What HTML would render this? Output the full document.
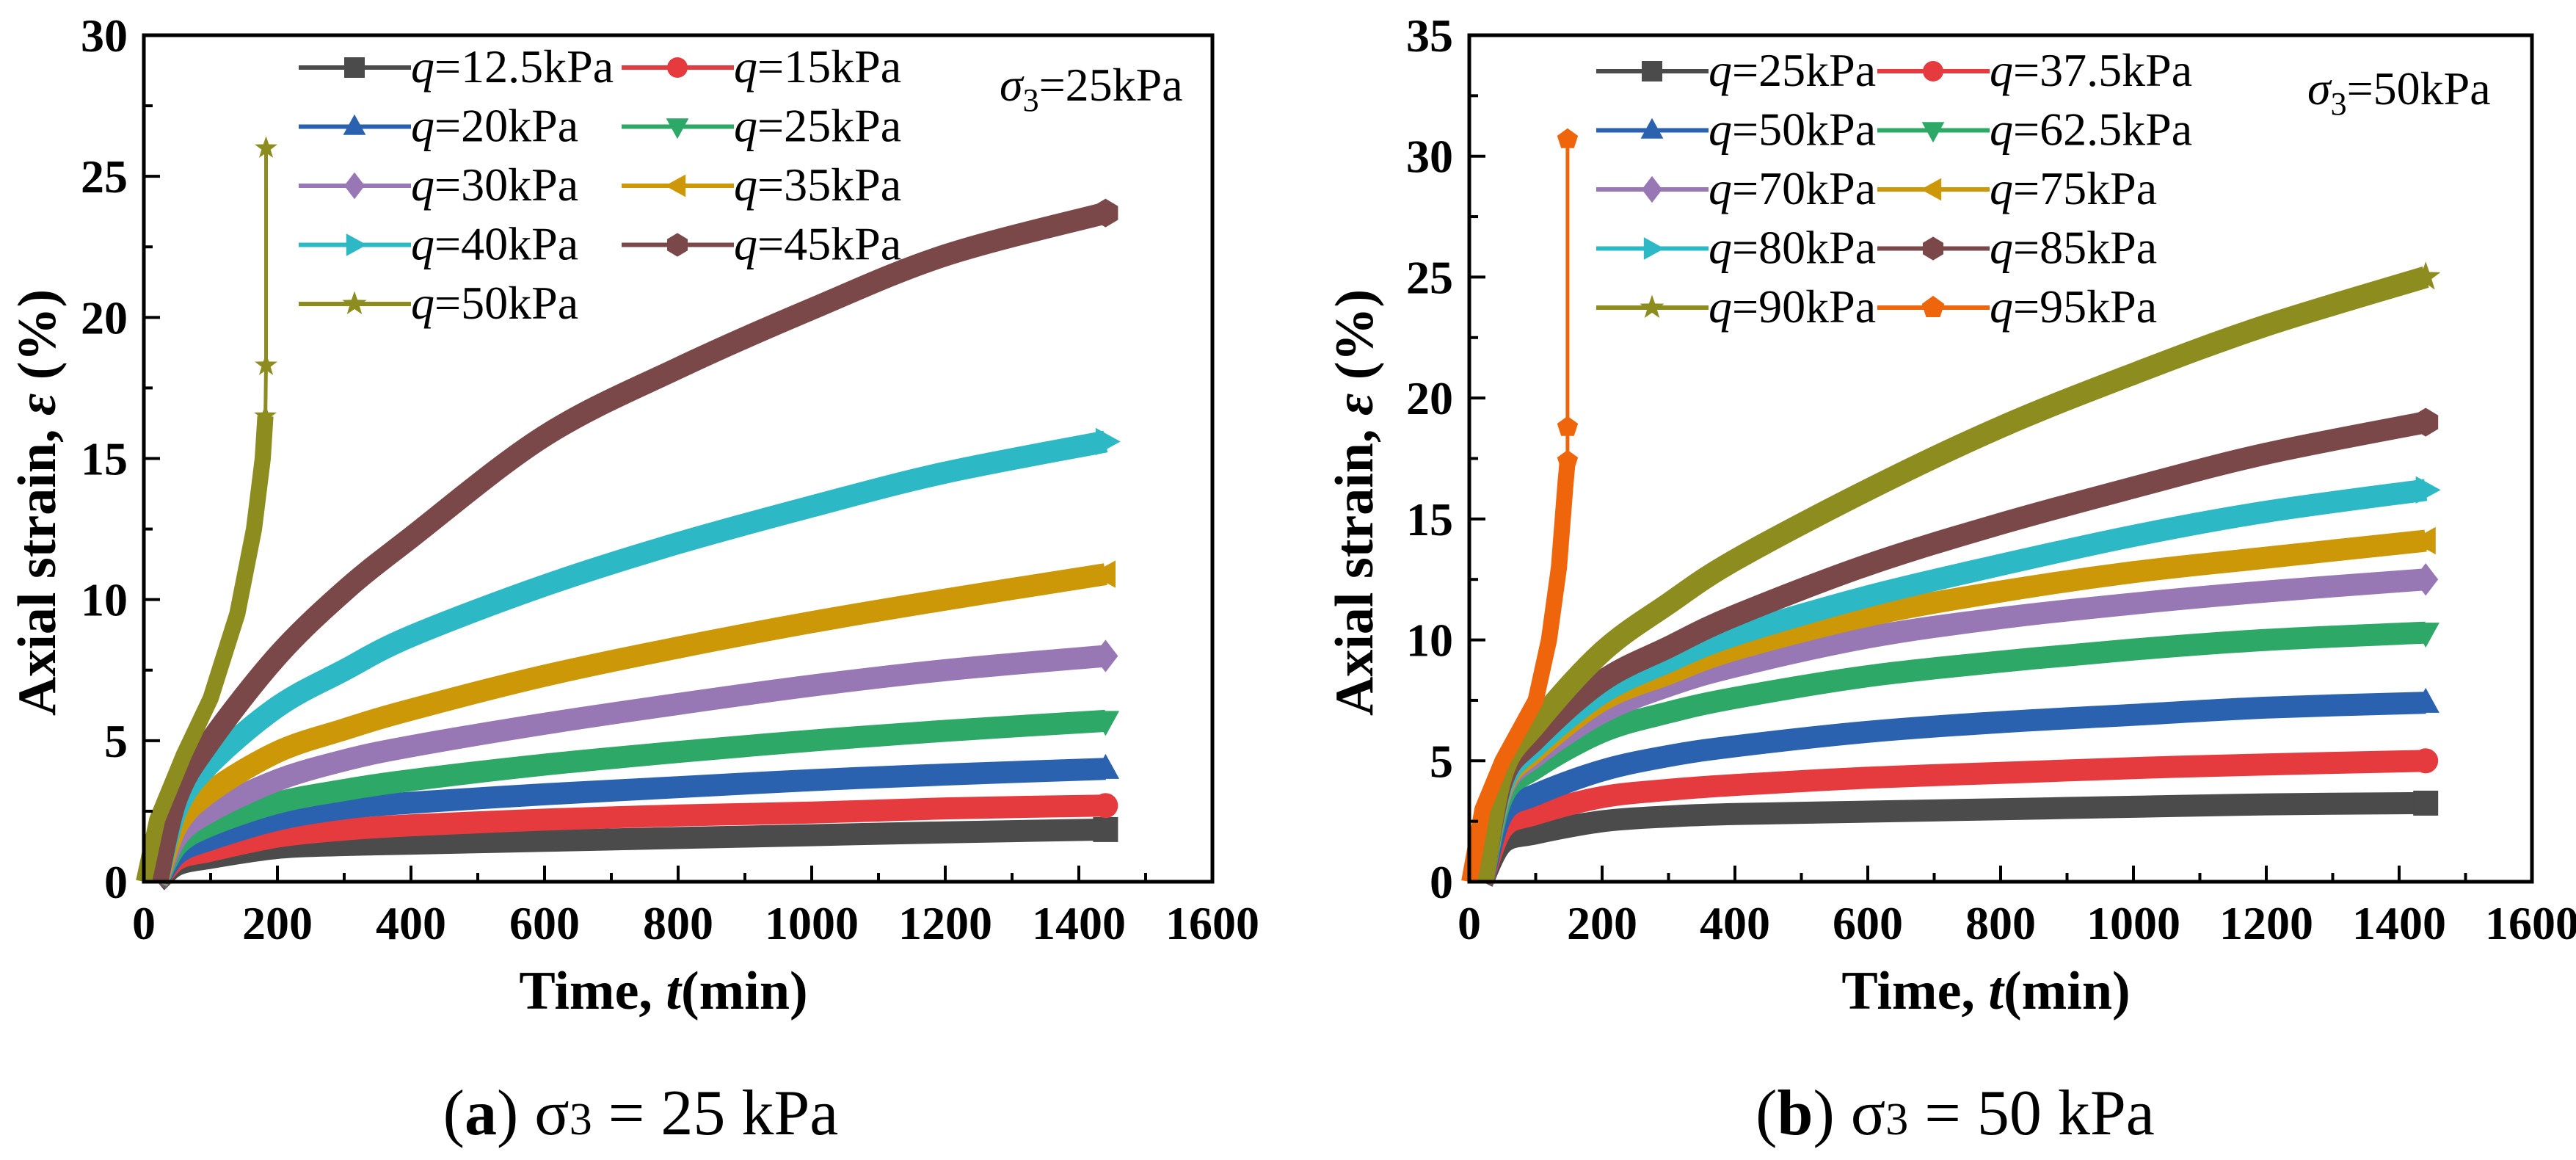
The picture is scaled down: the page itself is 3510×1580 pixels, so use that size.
<!DOCTYPE html>
<html><head><meta charset="utf-8">
<style>
html,body{margin:0;padding:0;background:#fff;}
svg{display:block;font-family:"Liberation Serif","DejaVu Serif",serif;}
svg text{font-family:"Liberation Serif","DejaVu Serif",serif;}
</style></head>
<body>
<svg id="fig" width="3510" height="1580" viewBox="0 0 3510 1580" xmlns="http://www.w3.org/2000/svg" font-family="Liberation Serif, DejaVu Serif, serif">
<rect width="3510" height="1580" fill="#fff"/>
</svg>
<script>
// ---------- data ----------
const timesA = [20,50,100,200,300,400,600,800,1000,1200,1440];
const q125A = [0,0.6,0.85,1.2,1.3,1.35,1.45,1.55,1.65,1.75,1.85];
const q15A  = [0,0.8,1.1,1.6,1.85,2.0,2.2,2.35,2.45,2.6,2.7];
const q20A  = [0,1.0,1.5,2.2,2.6,2.8,3.1,3.35,3.6,3.8,4.0];
const q25A  = [0,1.3,2.0,2.8,3.25,3.6,4.15,4.6,5.0,5.35,5.7];
const q30A  = [0,1.6,2.5,3.6,4.3,4.8,5.6,6.3,6.95,7.5,8.0];
const q35A  = [0,2.0,3.2,4.6,5.4,6.1,7.3,8.3,9.2,10.0,10.9];
const q40A  = [0,2.6,4.2,6.2,7.5,8.7,10.5,12.0,13.3,14.5,15.6];
const q45A  = [0,3.0,5.0,8.0,10.3,12.2,15.8,18.2,20.3,22.2,23.7];
const q50Atimes = [0,20,60,100,140,165,178,182,183,183];
const q50A  = [0,2.2,4.5,6.5,9.5,12.5,15.0,16.5,18.3,26.0];

const timesB = [20,50,100,200,300,400,600,800,1000,1200,1440];
const q25B  = [0,1.6,2.0,2.5,2.7,2.8,2.9,3.0,3.1,3.2,3.25];
const q375B = [0,2.2,2.8,3.5,3.8,4.0,4.3,4.5,4.7,4.85,5.0];
const q50B  = [0,2.8,3.6,4.6,5.2,5.6,6.2,6.6,6.9,7.2,7.4];
const q625B = [0,3.5,4.7,6.2,7.0,7.6,8.5,9.1,9.6,10.0,10.3];
const q70B  = [0,3.8,5.2,7.0,8.1,8.9,10.1,10.9,11.5,12.0,12.5];
const q75B  = [0,3.9,5.4,7.5,8.6,9.6,11.0,12.0,12.8,13.4,14.1];
const q80B  = [0,4.0,5.6,7.8,9.1,10.2,11.8,13.1,14.3,15.3,16.2];
const q85B  = [0,4.2,5.9,8.3,9.7,11.0,13.1,14.8,16.3,17.7,19.0];
const q90B  = [0,4.5,6.5,9.5,11.5,13.3,16.2,18.8,21.0,23.0,25.0];
const q95Btimes = [0,20,50,100,120,135,145,148,148,148];
const q95B  = [0,3.0,5.0,7.5,10.0,13.0,16.5,17.4,18.8,30.7];

const xTicks = [0,200,400,600,800,1000,1200,1400,1600];
const yTicksA = [0,5,10,15,20,25,30];
const yTicksB = [0,5,10,15,20,25,30,35];

// ---------- drawing ----------
const NS = "http://www.w3.org/2000/svg";
const svg = document.getElementById('fig');
const FONT = '"Liberation Serif","DejaVu Serif",serif';
function mk(tag, attrs, parent){
  const e = document.createElementNS(NS, tag);
  for (const k in attrs) e.setAttribute(k, attrs[k]);
  if (tag==='text') e.style.fontFamily = FONT;
  (parent||svg).appendChild(e);
  return e;
}
function marker(g, shape, x, y, s, color){
  let e;
  if (shape==='square') e = mk('rect',{x:x-s,y:y-s,width:2*s,height:2*s,fill:color},g);
  else if (shape==='circle') e = mk('circle',{cx:x,cy:y,r:s,fill:color},g);
  else {
    let pts;
    if (shape==='up') pts=[[0,-s*1.2],[s*1.1,s*0.8],[-s*1.1,s*0.8]];
    else if (shape==='down') pts=[[0,s*1.2],[s*1.1,-s*0.8],[-s*1.1,-s*0.8]];
    else if (shape==='diamond') pts=[[0,-s*1.3],[s,0],[0,s*1.3],[-s,0]];
    else if (shape==='left') pts=[[-s*1.2,0],[s*0.8,-s*1.1],[s*0.8,s*1.1]];
    else if (shape==='right') pts=[[s*1.2,0],[-s*0.8,-s*1.1],[-s*0.8,s*1.1]];
    else if (shape==='hex') pts=[[0,-s*1.15],[s,-s*0.55],[s,s*0.55],[0,s*1.15],[-s,s*0.55],[-s,-s*0.55]];
    else if (shape==='pent') pts=[0,1,2,3,4].map(i=>{const a=-Math.PI/2+i*2*Math.PI/5;return [s*1.15*Math.cos(a),s*1.15*Math.sin(a)];});
    else if (shape==='star') pts=[...Array(10).keys()].map(i=>{const a=-Math.PI/2+i*Math.PI/5;const r=i%2?s*0.5:s*1.25;return [r*Math.cos(a),r*Math.sin(a)];});
    e = mk('polygon',{points:pts.map(p=>(x+p[0])+','+(y+p[1])).join(' '),fill:color},g);
  }
  return e;
}
function smoothPath(P){
  let d='M'+P[0][0].toFixed(1)+','+P[0][1].toFixed(1);
  for(let i=0;i<P.length-1;i++){
    const p0=P[Math.max(0,i-1)],p1=P[i],p2=P[i+1],p3=P[Math.min(P.length-1,i+2)];
    const c1=[p1[0]+(p2[0]-p0[0])/6,p1[1]+(p2[1]-p0[1])/6];
    const c2=[p2[0]-(p3[0]-p1[0])/6,p2[1]-(p3[1]-p1[1])/6];
    d+=' C'+c1.map(v=>v.toFixed(1)).join(',')+' '+c2.map(v=>v.toFixed(1)).join(',')+' '+p2[0].toFixed(1)+','+p2[1].toFixed(1);
  }
  return d;
}
function linePath(P){ return P.map((p,i)=>(i?'L':'M')+p[0].toFixed(1)+','+p[1].toFixed(1)).join(' '); }

function drawPanel(cfg){
  const {x0,x1,y0,y1,ymax,yTicks,series,legend,sigma,caption,id} = cfg;
  const sx = t => x0 + (t/1600)*(x1-x0);
  const sy = v => y0 - (v/ymax)*(y0-y1);
  const g = mk('g',{});
  
  
  series.forEach(s=>{
    const sg = mk('g',{},g);
    
    
    const P = s.t.map((t,i)=>[sx(t),sy(s.v[i])]);
    const n=s.v.length;
    if (s.thin){
      // dense-marker part (thick) up to the last measured points, then thin jump
      mk('path',{d:linePath(P.slice(0,n-2)),fill:'none',stroke:s.color,'stroke-width':22,'stroke-linejoin':'round'},sg);
      mk('path',{d:linePath(P),fill:'none',stroke:s.color,'stroke-width':5,'stroke-linejoin':'round'},sg);
      for(let k=1;k<=3;k++) marker(sg,s.shape,sx(s.t[n-k]),sy(s.v[n-k]),13,s.color);
    } else {
      mk('path',{d:smoothPath(P),fill:'none',stroke:s.color,'stroke-width':30,'stroke-linejoin':'round','stroke-linecap':'butt'},sg);
      marker(sg,s.shape,sx(s.t[n-1]),sy(s.v[n-1]),17,s.color);
    }
  });
  const fr = mk('rect',{x:x0,y:y1,width:x1-x0,height:y0-y1,fill:'none',stroke:'#000','stroke-width':5},g);
  
  
  xTicks.forEach(t=>{
    const x=sx(t);
    mk('line',{x1:x,y1:y0,x2:x,y2:y0-22,stroke:'#000','stroke-width':4},g);
    const tl = mk('text',{x:x,y:y0+78,'font-size':64,'font-weight':'bold','text-anchor':'middle'},g);
    tl.textContent=t;
    
    
  });
  for (let t=100;t<1600;t+=200){ const x=sx(t); mk('line',{x1:x,y1:y0,x2:x,y2:y0-12,stroke:'#000','stroke-width':4},g); }
  yTicks.forEach(v=>{
    const y=sy(v);
    mk('line',{x1:x0,y1:y,x2:x0+22,y2:y,stroke:'#000','stroke-width':4},g);
    const tl = mk('text',{x:x0-22,y:y+22,'font-size':64,'font-weight':'bold','text-anchor':'end'},g);
    tl.textContent=v;
    
    
  });
  for (let v=2.5; v<ymax; v+=5){ const y=sy(v); mk('line',{x1:x0,y1:y,x2:x0+12,y2:y,stroke:'#000','stroke-width':4},g); }
  const xt = mk('text',{x:(x0+x1)/2-20,y:y0+173,'font-size':74,'font-weight':'bold','text-anchor':'middle'},g);
  xt.innerHTML='Time, <tspan font-style="italic">t</tspan>(min)';
  
  
  const yc = (y0+y1)/2+60;
  const yt = mk('text',{x:cfg.ytx,y:yc,'font-size':74,'font-weight':'bold','text-anchor':'middle',transform:`rotate(-90 ${cfg.ytx} ${yc})`},g);
  yt.innerHTML='Axial strain, <tspan font-style="italic">ε</tspan> (%)';
  
  
  const lg = mk('g',{},g);
  
  
  legend.forEach((it,i)=>{
    const col=i%2, row=Math.floor(i/2);
    const lx = col? cfg.legX2 : cfg.legX1;
    const ly = cfg.legY + row*80.5;
    const eg = mk('g',{},lg);
    
    
    mk('line',{x1:lx,y1:ly,x2:lx+153,y2:ly,stroke:it.color,'stroke-width':6},eg);
    marker(eg,it.shape,lx+76,ly,14,it.color);
    const tx = mk('text',{x:lx+153,y:ly+20,'font-size':64},eg);
    tx.innerHTML='<tspan font-style="italic">q</tspan>='+it.name+'kPa';
  });
  const sg = mk('text',{x:cfg.sigX,y:cfg.sigY,'font-size':64},g);
  sg.innerHTML='<tspan font-style="italic">σ</tspan><tspan font-size="44" dy="14">3</tspan><tspan dy="-14">='+sigma+'kPa</tspan>';
  
  
  const cp = mk('text',{x:cfg.capX,y:1545,'font-size':88,'text-anchor':'middle'},g);
  cp.innerHTML='(<tspan font-weight="bold">'+caption+'</tspan>) σ<tspan font-size="62">3</tspan> = '+sigma+' kPa';
  
  
}

const C = {gray:'#4b4b4b',red:'#e63b3e',blue:'#2a62b0',green:'#2ea866',purple:'#9877b5',gold:'#cc9808',cyan:'#2cb9c5',brown:'#7a4848',olive:'#8c8c1f',orange:'#ef650c'};

drawPanel({id:'panel-a',x0:196,x1:1652,y0:1201,y1:48,ymax:30,yTicks:yTicksA,ytx:75,
  caption:'a',sigma:'25',capX:873,sigX:1362,sigY:137,legX1:407,legX2:847,legY:92,
  series:[
    {name:'12.5',t:timesA,v:q125A,color:C.gray,shape:'square'},
    {name:'15',t:timesA,v:q15A,color:C.red,shape:'circle'},
    {name:'20',t:timesA,v:q20A,color:C.blue,shape:'up'},
    {name:'25',t:timesA,v:q25A,color:C.green,shape:'down'},
    {name:'30',t:timesA,v:q30A,color:C.purple,shape:'diamond'},
    {name:'35',t:timesA,v:q35A,color:C.gold,shape:'left'},
    {name:'40',t:timesA,v:q40A,color:C.cyan,shape:'right'},
    {name:'45',t:timesA,v:q45A,color:C.brown,shape:'hex'},
    {name:'50',t:q50Atimes,v:q50A,color:C.olive,shape:'star',thin:true}
  ],
  legend:[
    {name:'12.5',color:C.gray,shape:'square'},{name:'15',color:C.red,shape:'circle'},
    {name:'20',color:C.blue,shape:'up'},{name:'25',color:C.green,shape:'down'},
    {name:'30',color:C.purple,shape:'diamond'},{name:'35',color:C.gold,shape:'left'},
    {name:'40',color:C.cyan,shape:'right'},{name:'45',color:C.brown,shape:'hex'},
    {name:'50',color:C.olive,shape:'star'}
  ]});

drawPanel({id:'panel-b',x0:2002,x1:3450,y0:1201,y1:48,ymax:35,yTicks:yTicksB,ytx:1870,
  caption:'b',sigma:'50',capX:2664,sigX:3144,sigY:142,legX1:2175,legX2:2558,legY:97,
  series:[
    {name:'25',t:timesB,v:q25B,color:C.gray,shape:'square'},
    {name:'37.5',t:timesB,v:q375B,color:C.red,shape:'circle'},
    {name:'50',t:timesB,v:q50B,color:C.blue,shape:'up'},
    {name:'62.5',t:timesB,v:q625B,color:C.green,shape:'down'},
    {name:'70',t:timesB,v:q70B,color:C.purple,shape:'diamond'},
    {name:'75',t:timesB,v:q75B,color:C.gold,shape:'left'},
    {name:'80',t:timesB,v:q80B,color:C.cyan,shape:'right'},
    {name:'85',t:timesB,v:q85B,color:C.brown,shape:'hex'},
    {name:'90',t:timesB,v:q90B,color:C.olive,shape:'star'},
    {name:'95',t:q95Btimes,v:q95B,color:C.orange,shape:'pent',thin:true}
  ],
  legend:[
    {name:'25',color:C.gray,shape:'square'},{name:'37.5',color:C.red,shape:'circle'},
    {name:'50',color:C.blue,shape:'up'},{name:'62.5',color:C.green,shape:'down'},
    {name:'70',color:C.purple,shape:'diamond'},{name:'75',color:C.gold,shape:'left'},
    {name:'80',color:C.cyan,shape:'right'},{name:'85',color:C.brown,shape:'hex'},
    {name:'90',color:C.olive,shape:'star'},{name:'95',color:C.orange,shape:'pent'}
  ]});
</script>
</body></html>
